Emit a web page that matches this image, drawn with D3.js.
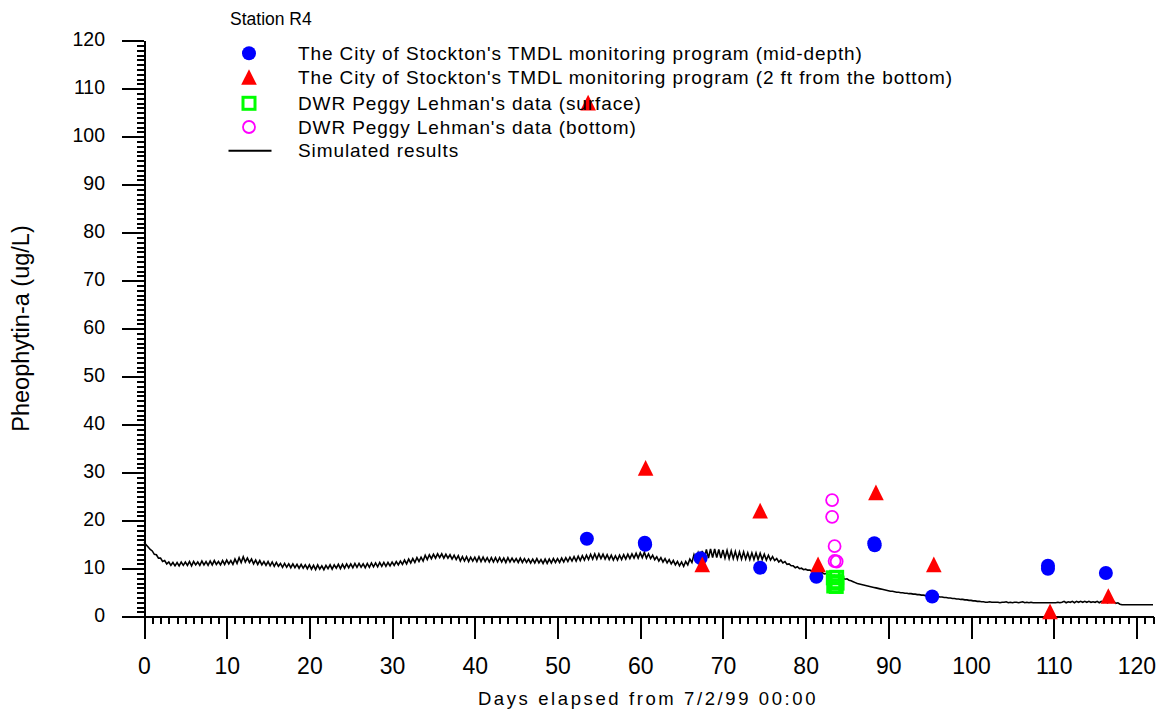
<!DOCTYPE html>
<html>
<head>
<meta charset="utf-8">
<script src="https://cdn.jsdelivr.net/npm/d3@7"></script>
<style>
  html, body { margin: 0; padding: 0; background: #fff; }
  svg { display: block; font-family: "Liberation Sans", Arial, sans-serif; }
</style>
</head>
<body>
<svg id="chart" width="1165" height="713"></svg>
<script>
// Observed data: [day, value]
const midDepth = [
  [53.55, 16.25], [60.55, 15.4], [60.6, 15.0], [67.3, 12.2], [74.5, 10.2],
  [81.3, 8.3], [88.3, 15.3], [88.35, 14.9], [95.3, 4.2], [109.3, 10.6],
  [109.3, 10.0], [116.3, 9.1]
];
const nearBottom = [
  [53.7, 107.1], [60.65, 31.0], [67.5, 10.9], [74.5, 22.1], [81.5, 10.9],
  [88.5, 25.9], [95.5, 10.9], [109.55, 1.1], [116.6, 4.3]
];
const dwrSurface = [
  [83.35, 8.1], [83.75, 8.2], [83.5, 7.3], [83.8, 7.0], [83.4, 6.4], [83.7, 6.3]
];
const dwrBottom = [
  [83.2, 24.3], [83.2, 20.8], [83.5, 14.7], [83.5, 11.6], [83.75, 11.5]
];

// Simulated series, one value every 0.25 day starting at day 0
const simStep = 0.25;
const simValues = [
  15.5, 15.0, 14.5, 14.0,  13.7, 13.0, 12.9, 12.2,  12.2, 11.5, 11.7, 11.0,  11.4, 10.7, 11.3, 10.6,  11.3, 10.6, 11.4, 10.7,
  11.4, 10.7, 11.5, 10.6,  11.5, 10.8, 11.4, 10.7,  11.6, 10.8, 11.5, 10.7,  11.6, 10.8, 11.7, 10.9,  11.5, 10.8, 11.7, 10.9,
  11.8, 11.0, 11.7, 10.9,  12.0, 11.1, 12.3, 11.3,  12.5, 11.4, 12.2, 11.3,  12.0, 11.0, 11.8, 10.9,  11.7, 10.8, 11.5, 10.7,
  11.5, 10.6, 11.4, 10.5,  11.3, 10.5, 11.1, 10.3,  11.1, 10.3, 11.0, 10.2,  11.0, 10.2, 10.9, 10.1,  10.9, 10.1, 10.8, 10.0,
  10.8, 9.9, 10.7, 9.8,  10.8, 9.9, 10.6, 9.8,  10.7, 10.0, 10.8, 9.9,  10.8, 10.1, 10.9, 10.0,  10.9, 10.1, 11.0, 10.2,
  11.0, 10.2, 11.1, 10.3,  11.1, 10.3, 11.0, 10.2,  11.1, 10.3, 11.2, 10.4,  11.2, 10.4, 11.3, 10.5,  11.3, 10.5, 11.3, 10.6,
  11.4, 10.7, 11.5, 10.8,  11.6, 10.9, 11.8, 11.0,  12.0, 11.2, 12.1, 11.3,  12.3, 11.5, 12.4, 11.6,  12.8, 11.9, 12.9, 12.1,
  13.0, 12.2, 13.1, 12.3,  13.1, 12.2, 13.0, 12.2,  12.9, 12.0, 12.8, 11.9,  12.7, 11.6, 12.5, 11.6,  12.5, 11.5, 12.4, 11.6,
  12.4, 11.5, 12.5, 11.5,  12.4, 11.5, 12.3, 11.4,  12.3, 11.4, 12.3, 11.4,  12.3, 11.4, 12.2, 11.3,  12.3, 11.4, 12.2, 11.4,
  12.1, 11.3, 12.2, 11.3,  12.1, 11.3, 12.0, 11.2,  12.0, 11.2, 12.1, 11.2,  11.9, 11.1, 12.0, 11.1,  12.0, 11.2, 12.1, 11.3,
  12.1, 11.3, 12.2, 11.4,  12.3, 11.5, 12.4, 11.6,  12.5, 11.6, 12.6, 11.7,  12.7, 11.8, 12.8, 11.9,  13.0, 12.0, 13.1, 12.0,
  13.1, 12.1, 13.0, 12.0,  12.9, 11.9, 12.8, 11.8,  12.7, 11.8, 12.8, 11.9,  12.9, 12.0, 13.0, 12.1,  13.1, 12.2, 13.2, 12.2,
  13.3, 12.3, 13.4, 12.2,  13.1, 12.1, 12.8, 11.9,  12.5, 11.6, 12.3, 11.4,  12.1, 11.2, 11.9, 11.0,  11.7, 10.8, 11.5, 10.6,
  11.4, 10.5, 11.5, 10.8,  12.0, 11.3, 12.9, 11.7,  13.3, 11.9, 13.7, 12.1,  14.0, 12.2, 14.1, 12.3,  14.1, 12.3, 14.0, 12.2,
  13.9, 12.2, 13.8, 12.1,  13.7, 12.1, 13.6, 12.0,  13.5, 12.0, 13.5, 12.0,  13.3, 11.9, 13.3, 11.9,  13.3, 11.9, 13.2, 11.9,
  13.0, 11.8, 12.8, 11.8,  12.5, 11.7, 12.1, 11.4,  11.8, 11.2, 11.5, 10.9,  11.0, 10.6, 10.6, 10.2,  10.4, 10.0, 10.1, 9.8,
  9.9, 9.7, 9.7, 9.5,  9.5, 9.3, 9.4, 9.1,  9.2, 8.9, 9.0, 8.7,  8.8, 8.5, 8.6, 8.3,  8.4, 8.1, 8.1, 7.8,
  7.9, 7.6, 7.5, 7.3,  7.1, 6.9, 6.8, 6.7,  6.6, 6.5, 6.4, 6.3,  6.2, 6.1, 6.0, 5.9,  5.8, 5.7, 5.6, 5.5,
  5.4, 5.3, 5.3, 5.2,  5.1, 5.1, 5.0, 5.0,  4.9, 4.9, 4.8, 4.8,  4.7, 4.7, 4.6, 4.6,  4.5, 4.5, 4.4, 4.4,
  4.3, 4.3, 4.2, 4.2,  4.2, 4.1, 4.1, 4.0,  4.0, 3.9, 3.9, 3.8,  3.8, 3.7, 3.7, 3.6,  3.6, 3.5, 3.5, 3.4,
  3.4, 3.3, 3.3, 3.2,  3.2, 3.1, 3.1, 3.0,  3.0, 3.1, 3.0, 3.0,  3.0, 3.0, 2.9, 3.0,  3.0, 3.1, 2.9, 3.0,
  2.9, 3.0, 3.0, 2.9,  3.0, 3.1, 2.9, 3.0,  2.9, 3.0, 2.9, 2.9,  2.9, 2.9, 2.9, 2.9,  2.9, 2.9, 2.9, 2.9,
  2.9, 2.9, 3.0, 2.9,  3.0, 3.2, 2.9, 3.1,  3.0, 3.2, 2.9, 3.2,  3.0, 3.2, 3.0, 3.2,  3.0, 3.2, 3.0, 3.1,
  3.0, 3.2, 2.9, 3.2,  3.0, 3.2, 2.9, 3.2,  3.0, 3.2, 2.8, 2.9,  2.6, 2.5, 2.5, 2.5,  2.5, 2.5, 2.5, 2.5,
  2.5, 2.5, 2.5, 2.5,  2.5, 2.5, 2.5, 2.5,  2.5
];

const xTicks = [0, 10, 20, 30, 40, 50, 60, 70, 80, 90, 100, 110, 120];
const yTicks = [0, 10, 20, 30, 40, 50, 60, 70, 80, 90, 100, 110, 120];

const legendTitle = "Station R4";
const legendLabels = [
  "The City of Stockton's TMDL monitoring program (mid-depth)",
  "The City of Stockton's TMDL monitoring program (2 ft from the bottom)",
  "DWR Peggy Lehman's data (surface)",
  "DWR Peggy Lehman's data (bottom)",
  "Simulated results"
];
const xTitle = "Days elapsed from 7/2/99 00:00";
const yTitle = "Pheophytin-a (ug/L)";

const svg = d3.select("#chart");
const x = d3.scaleLinear().domain([0, 122]).range([144, 1153]);
const y = d3.scaleLinear().domain([0, 120]).range([616.7, 40.7]);

// ---- axes ----
const yMinor = svg.append("g").attr("transform", `translate(${x(0)},0)`)
  .call(d3.axisLeft(y).tickValues(d3.range(0, 121, 1)).tickSize(7).tickSizeOuter(0).tickFormat(""));
const yMajor = svg.append("g").attr("transform", `translate(${x(0)},0)`)
  .call(d3.axisLeft(y).tickValues(yTicks).tickSize(22).tickSizeOuter(0).tickPadding(17));
const xMinor = svg.append("g").attr("transform", `translate(0,${y(0)})`)
  .call(d3.axisBottom(x).tickValues(d3.range(0, 123, 1)).tickSize(7).tickSizeOuter(0).tickFormat(""));
const xMajor = svg.append("g").attr("transform", `translate(0,${y(0)})`)
  .call(d3.axisBottom(x).tickValues(xTicks).tickSize(22).tickSizeOuter(0).tickPadding(19.3));

[yMinor, yMajor, xMinor, xMajor].forEach(g => {
  g.selectAll("path.domain").attr("stroke", "#000").attr("stroke-width", 2).attr("shape-rendering", "crispEdges");
  g.selectAll(".tick line").attr("stroke", "#000").attr("stroke-width", 2).attr("shape-rendering", "crispEdges");
});
yMajor.selectAll(".tick text").attr("font-size", "19.5px").attr("fill", "#000").attr("dy", "0.27em")
  .attr("font-family", "'Liberation Sans', Arial, sans-serif");
xMajor.selectAll(".tick text").attr("font-size", "23px").attr("fill", "#000")
  .attr("font-family", "'Liberation Sans', Arial, sans-serif");

// ---- axis titles ----
svg.append("text")
  .attr("x", 648).attr("y", 705)
  .attr("text-anchor", "middle")
  .attr("font-size", "18.5px").attr("letter-spacing", "2.6px")
  .text(xTitle);
svg.append("text")
  .attr("transform", "translate(29.3,328.5) rotate(-90)")
  .attr("text-anchor", "middle")
  .attr("font-size", "23.5px")
  .text(yTitle);

// ---- simulated line ----
const line = d3.line()
  .x((d, i) => x(i * simStep))
  .y(d => y(d));
svg.append("path")
  .datum(simValues)
  .attr("fill", "none")
  .attr("stroke", "#000")
  .attr("stroke-width", 1.6)
  .attr("d", line);

// ---- markers ----
const triPath = (cx, cy) => `M${cx},${cy - 7.8}L${cx + 7.8},${cy + 7.8}L${cx - 7.8},${cy + 7.8}Z`;

svg.append("g").selectAll("rect").data(dwrSurface).join("rect")
  .attr("x", d => x(d[0]) - 6).attr("y", d => y(d[1]) - 6)
  .attr("width", 12).attr("height", 12)
  .attr("fill", "none").attr("stroke", "#00ff00").attr("stroke-width", 3);

svg.append("g").selectAll("circle").data(midDepth).join("circle")
  .attr("cx", d => x(d[0])).attr("cy", d => y(d[1])).attr("r", 7)
  .attr("fill", "#0000ff");

svg.append("g").selectAll("path").data(nearBottom).join("path")
  .attr("d", d => triPath(x(d[0]), y(d[1])))
  .attr("fill", "#ff0000");

svg.append("g").selectAll("circle").data(dwrBottom).join("circle")
  .attr("cx", d => x(d[0])).attr("cy", d => y(d[1])).attr("r", 6)
  .attr("fill", "none").attr("stroke", "#ff00ff").attr("stroke-width", 1.8);

// ---- legend ----
const lg = svg.append("g");
lg.append("text").attr("x", 230).attr("y", 25).attr("font-size", "17.5px").text(legendTitle);
const rowY = [53.3, 77, 103.3, 127, 150.7];
const symX = 249;
lg.append("circle").attr("cx", symX).attr("cy", rowY[0]).attr("r", 7).attr("fill", "#0000ff");
lg.append("path").attr("d", triPath(symX, rowY[1])).attr("fill", "#ff0000");
lg.append("rect").attr("x", symX - 6).attr("y", rowY[2] - 6).attr("width", 12).attr("height", 12)
  .attr("fill", "none").attr("stroke", "#00ff00").attr("stroke-width", 3);
lg.append("circle").attr("cx", symX).attr("cy", rowY[3]).attr("r", 6)
  .attr("fill", "none").attr("stroke", "#ff00ff").attr("stroke-width", 1.8);
lg.append("line").attr("x1", 228.5).attr("x2", 271.5).attr("y1", rowY[4]).attr("y2", rowY[4])
  .attr("stroke", "#000").attr("stroke-width", 2);
lg.selectAll("text.lbl").data(legendLabels).join("text")
  .attr("class", "lbl")
  .attr("x", 298).attr("y", (d, i) => rowY[i] + 6.5)
  .attr("font-size", "19px").attr("letter-spacing", "0.9px")
  .text(d => d);
</script>
</body>
</html>
